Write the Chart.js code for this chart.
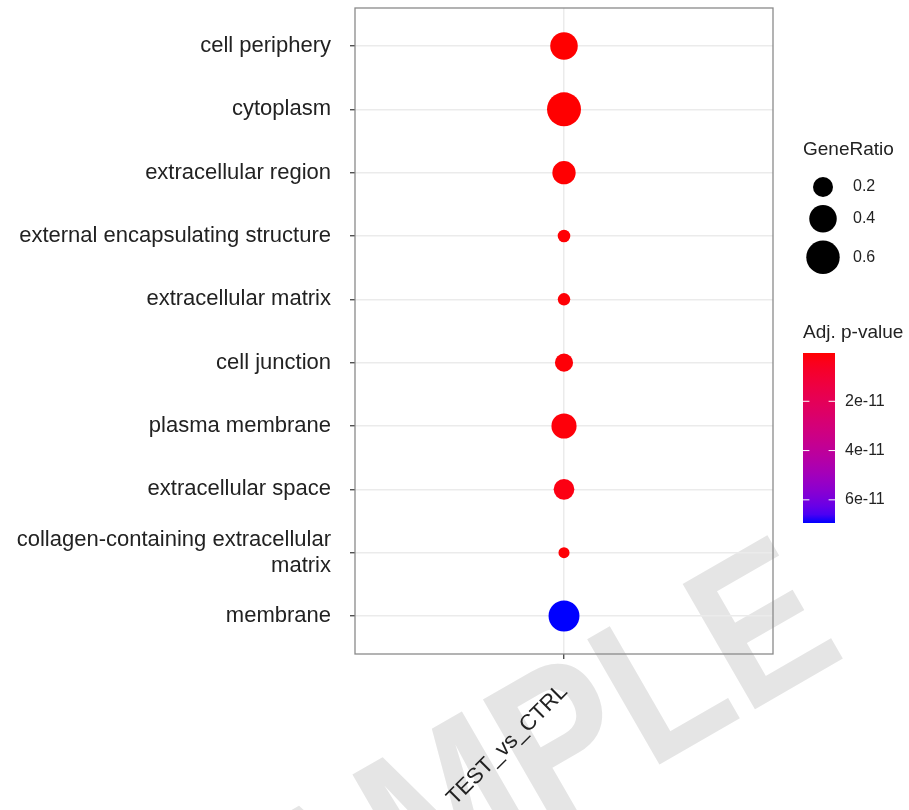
<!DOCTYPE html>
<html>
<head>
<meta charset="utf-8">
<script src="https://cdn.jsdelivr.net/npm/chart.js@4.4.1/dist/chart.umd.min.js"></script>
<style>
html, body { margin: 0; padding: 0; background: #fff; }
</style>
</head>
<body>
<canvas id="go_dotplot" width="909" height="810"></canvas>
<script>
// GO cellular component enrichment, one comparison
var terms = [
    'cell periphery',
    'cytoplasm',
    'extracellular region',
    'external encapsulating structure',
    'extracellular matrix',
    'cell junction',
    'plasma membrane',
    'extracellular space',
    ['collagen-containing extracellular', 'matrix'],
    'membrane'
];
var comparisons = ['TEST_vs_CTRL'];
var geneRatio = [0.40, 0.62, 0.28, 0.065, 0.063, 0.16, 0.33, 0.215, 0.045, 0.51];
var padj = [4e-13, 5e-13, 6e-13, 8e-13, 9e-13, 1.2e-12, 1.5e-12, 2.6e-12, 1.0e-12, 6.94e-11];
var sizeBreaks = [0.2, 0.4, 0.6];
var sizeBreakLabels = ['0.2', '0.4', '0.6'];
var pBreaks = [2e-11, 4e-11, 6e-11];
var pBreakLabels = ['2e-11', '4e-11', '6e-11'];

var FONT = 'Liberation Sans';
var TEXT = '#222222';

// size scale: area linear in GeneRatio (px radius)
function sizeOf(v) { return Math.sqrt(10.5 + 447.5 * v); }

// red -> blue gradient interpolated in CIELAB, like ggplot
function lin(v) { return v <= 0.04045 ? v / 12.92 : Math.pow((v + 0.055) / 1.055, 2.4); }
function fl(t) { return t > 0.008856 ? Math.cbrt(t) : 7.787 * t + 16 / 116; }
function finv(t) { var c = t * t * t; return c > 0.008856 ? c : (t - 16 / 116) / 7.787; }
function gam(v) {
    v = v <= 0.0031308 ? 12.92 * v : 1.055 * Math.pow(v, 1 / 2.4) - 0.055;
    return Math.round(Math.min(1, Math.max(0, v)) * 255);
}
function rgb2lab(c) {
    var r = lin(c[0] / 255), g = lin(c[1] / 255), b = lin(c[2] / 255);
    var x = fl((0.4124 * r + 0.3576 * g + 0.1805 * b) / 0.95047);
    var y = fl(0.2126 * r + 0.7152 * g + 0.0722 * b);
    var z = fl((0.0193 * r + 0.1192 * g + 0.9505 * b) / 1.08883);
    return [116 * y - 16, 500 * (x - y), 200 * (y - z)];
}
function lab2rgb(L) {
    var fy = (L[0] + 16) / 116, fx = L[1] / 500 + fy, fz = fy - L[2] / 200;
    var x = finv(fx) * 0.95047, y = finv(fy), z = finv(fz) * 1.08883;
    var r = 3.2406 * x - 1.5372 * y - 0.4986 * z;
    var g = -0.9689 * x + 1.8758 * y + 0.0415 * z;
    var b = 0.0557 * x - 0.2040 * y + 1.0570 * z;
    return 'rgb(' + gam(r) + ',' + gam(g) + ',' + gam(b) + ')';
}
var LOW = rgb2lab([255, 0, 0]), HIGH = rgb2lab([0, 0, 255]);
var pMin = Math.min.apply(null, padj), pMax = Math.max.apply(null, padj);
function colorAt(t) {
    return lab2rgb([0, 1, 2].map(function (k) { return LOW[k] + t * (HIGH[k] - LOW[k]); }));
}
function pColor(p) { return colorAt((p - pMin) / (pMax - pMin)); }

var watermark = {
    id: 'watermark',
    beforeDraw: function (chart) {
        var ctx = chart.ctx;
        ctx.save();
        ctx.translate(494, 793);
        ctx.rotate(-30 * Math.PI / 180);
        ctx.scale(0.86, 1);
        ctx.font = 'bold 210px "' + FONT + '"';
        ctx.fillStyle = '#e5e5e5';
        ctx.textAlign = 'center';
        ctx.textBaseline = 'middle';
        ctx.fillText('SAMPLE', 0, 0);
        ctx.restore();
    }
};

var panelBorder = {
    id: 'panelBorder',
    afterDraw: function (chart) {
        var a = chart.chartArea, ctx = chart.ctx;
        ctx.save();
        ctx.strokeStyle = '#8a8a8a';
        ctx.lineWidth = 1.3;
        ctx.strokeRect(a.left, a.top, a.right - a.left, a.bottom - a.top);
        ctx.restore();
    }
};

var sideLegend = {
    id: 'sideLegend',
    afterDraw: function (chart) {
        var ctx = chart.ctx;
        var x0 = chart.chartArea.right + 30;
        ctx.save();
        ctx.fillStyle = TEXT;
        ctx.textAlign = 'left';
        ctx.textBaseline = 'middle';

        // GeneRatio size keys
        ctx.font = '19px "' + FONT + '"';
        ctx.fillText('GeneRatio', x0, 150);
        var y = 173;
        ctx.font = '16px "' + FONT + '"';
        sizeBreaks.forEach(function (v, i) {
            var r = sizeOf(v);
            var cy = y + r + 4;
            ctx.fillStyle = '#000';
            ctx.beginPath();
            ctx.arc(x0 + 20, cy, r, 0, Math.PI * 2);
            ctx.fill();
            ctx.fillStyle = TEXT;
            ctx.fillText(sizeBreakLabels[i], x0 + 50, cy);
            y += 2 * r + 8;
        });

        // Adj. p-value colour bar
        ctx.font = '19px "' + FONT + '"';
        ctx.fillText('Adj. p-value', x0, 333);
        var top = 353, h = 170, w = 32;
        var grad = ctx.createLinearGradient(0, top, 0, top + h);
        for (var s = 0; s <= 20; s++) grad.addColorStop(s / 20, colorAt(s / 20));
        ctx.fillStyle = grad;
        ctx.fillRect(x0, top, w, h);
        ctx.strokeStyle = '#ffffff';
        ctx.lineWidth = 1;
        ctx.font = '16px "' + FONT + '"';
        pBreaks.forEach(function (p, i) {
            var ty = top + (p - pMin) / (pMax - pMin) * h;
            ctx.beginPath();
            ctx.moveTo(x0, ty); ctx.lineTo(x0 + w / 5, ty);
            ctx.moveTo(x0 + w - w / 5, ty); ctx.lineTo(x0 + w, ty);
            ctx.stroke();
            ctx.fillStyle = TEXT;
            ctx.fillText(pBreakLabels[i], x0 + w + 10, ty);
        });
        ctx.restore();
    }
};

function noPad(s) {
    s.paddingTop = 0; s.paddingBottom = 0; s.paddingLeft = 0; s.paddingRight = 0;
}

var ctx = document.getElementById('go_dotplot').getContext('2d');
var dotPlot = new Chart(ctx, {
    type: 'bubble',
    data: {
        datasets: [{
            label: 'GO CC',
            data: geneRatio.map(function (g, i) { return { x: 0, y: i, r: sizeOf(g) }; }),
            backgroundColor: padj.map(pColor),
            borderWidth: 0,
            hoverBorderWidth: 0
        }]
    },
    options: {
        responsive: false,
        animation: false,
        events: [],
        layout: { autoPadding: false, padding: { top: 8, right: 136, left: 0, bottom: 0 } },
        plugins: { legend: { display: false }, tooltip: { enabled: false } },
        scales: {
            x: {
                type: 'linear',
                min: -1,
                max: 1,
                afterBuildTicks: function (s) { s.ticks = comparisons.map(function (c, i) { return { value: i }; }); },
                afterFit: function (s) { s.height = 156; noPad(s); },
                ticks: {
                    callback: function (v, i) { return comparisons[i]; },
                    minRotation: 45,
                    maxRotation: 45,
                    padding: 20,
                    color: TEXT,
                    font: { family: FONT, size: 22 }
                },
                grid: { color: '#ebebeb', lineWidth: 1.5, tickColor: '#333', tickWidth: 1.2, tickLength: 5 },
                border: { display: false }
            },
            y: {
                type: 'linear',
                min: -0.6,
                max: 9.6,
                reverse: true,
                afterBuildTicks: function (s) { s.ticks = terms.map(function (t, i) { return { value: i }; }); },
                afterFit: function (s) { s.width = 355; noPad(s); },
                ticks: {
                    callback: function (v) { return terms[v]; },
                    padding: 19,
                    color: TEXT,
                    font: { family: FONT, size: 22 }
                },
                grid: { color: '#ebebeb', lineWidth: 1.5, tickColor: '#333', tickWidth: 1.2, tickLength: 5 },
                border: { display: false }
            }
        }
    },
    plugins: [watermark, panelBorder, sideLegend]
});
</script>
</body>
</html>
